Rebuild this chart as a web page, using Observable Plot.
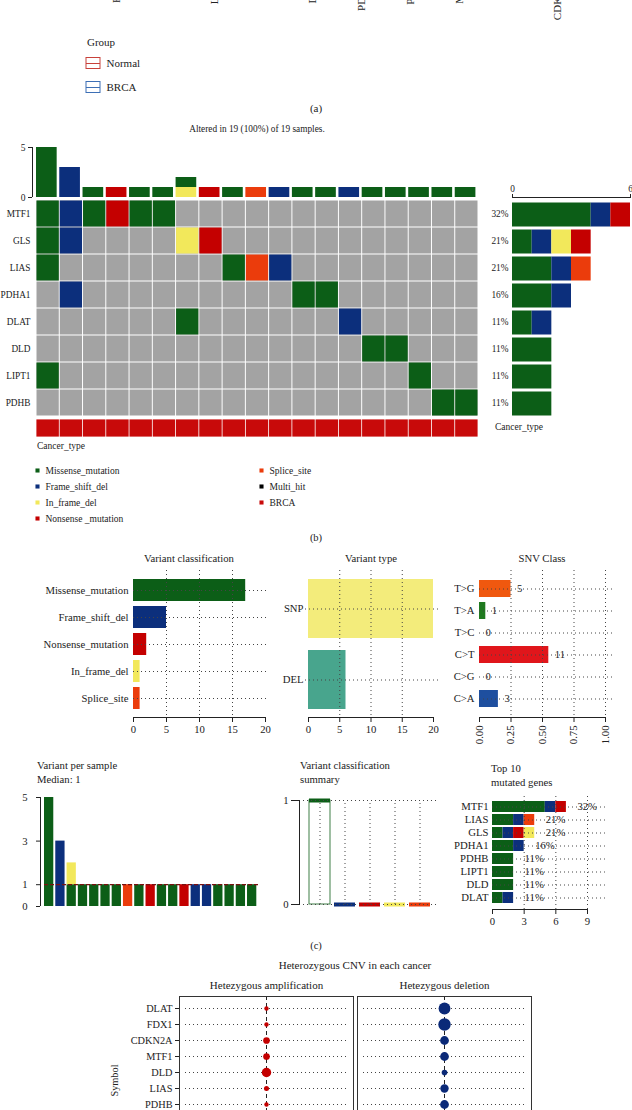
<!DOCTYPE html>
<html><head><meta charset="utf-8">
<script src="https://cdn.jsdelivr.net/npm/d3@7"></script>
<script src="https://cdn.jsdelivr.net/npm/@observablehq/plot@0.6"></script>
<style>
html,body{margin:0;padding:0;background:#fff;}
#fig{position:relative;width:632px;height:1110px;overflow:hidden;font-family:"Liberation Serif",serif;color:#222;background:#fff;}
.t{position:absolute;white-space:nowrap;line-height:1;}
</style></head><body><div id="fig"></div><script>
// ================= DATA =================
// (a) boxplot axis genes (cropped at top) and group legend
const boxGenes = ["FDX1","LIAS","LIPT1","DLD","DLAT","PDHA1","PDHB","MTF1","GLS","CDKN2A"];
const groups = ["Normal","BRCA"];
const groupColors = ["#c8413a","#3d6fb5"];

// (b) oncoplot
const mutTypes = ["Missense_mutation","Frame_shift_del","In_frame_del","Nonsense_mutation","Splice_site","Multi_hit","BRCA"];
const mutLabels = ["Missense_mutation","Frame_shift_del","In_frame_del","Nonsense _mutation","Splice_site","Multi_hit","BRCA"];
const mutColors = ["#0c5e17","#0c2f7c","#f2e85b","#c40000","#eb3c0c","#000000","#c80a0a"];
const oncoGenes = ["MTF1","GLS","LIAS","PDHA1","DLAT","DLD","LIPT1","PDHB"];
const oncoPct = ["32%","21%","21%","16%","11%","11%","11%","11%"];
const sampleCount = 19;
const oncoHits = [ // [gene, sample, class]
  ["MTF1",1,"Missense_mutation"],["GLS",1,"Missense_mutation"],["LIAS",1,"Missense_mutation"],["LIPT1",1,"Missense_mutation"],
  ["MTF1",2,"Frame_shift_del"],["GLS",2,"Frame_shift_del"],["PDHA1",2,"Frame_shift_del"],
  ["MTF1",3,"Missense_mutation"],["MTF1",4,"Nonsense_mutation"],["MTF1",5,"Missense_mutation"],["MTF1",6,"Missense_mutation"],
  ["GLS",7,"In_frame_del"],["DLAT",7,"Missense_mutation"],["GLS",8,"Nonsense_mutation"],
  ["LIAS",9,"Missense_mutation"],["LIAS",10,"Splice_site"],["LIAS",11,"Frame_shift_del"],
  ["PDHA1",12,"Missense_mutation"],["PDHA1",13,"Missense_mutation"],["DLAT",14,"Frame_shift_del"],
  ["DLD",15,"Missense_mutation"],["DLD",16,"Missense_mutation"],["LIPT1",17,"Missense_mutation"],
  ["PDHB",18,"Missense_mutation"],["PDHB",19,"Missense_mutation"]
];
const sampleBurden = [ // [sample, class, count] top bar
  [1,"Missense_mutation",5],[2,"Frame_shift_del",3],[3,"Missense_mutation",1],[4,"Nonsense_mutation",1],
  [5,"Missense_mutation",1],[6,"Missense_mutation",1],[7,"In_frame_del",1],[7,"Missense_mutation",1],
  [8,"Nonsense_mutation",1],[9,"Missense_mutation",1],[10,"Splice_site",1],[11,"Frame_shift_del",1],
  [12,"Missense_mutation",1],[13,"Missense_mutation",1],[14,"Frame_shift_del",1],[15,"Missense_mutation",1],
  [16,"Missense_mutation",1],[17,"Missense_mutation",1],[18,"Missense_mutation",1],[19,"Missense_mutation",1]
];
const geneBurden = [ // [gene, class, count] right bar
  ["MTF1","Missense_mutation",4],["MTF1","Frame_shift_del",1],["MTF1","Nonsense_mutation",1],
  ["GLS","Missense_mutation",1],["GLS","Frame_shift_del",1],["GLS","In_frame_del",1],["GLS","Nonsense_mutation",1],
  ["LIAS","Missense_mutation",2],["LIAS","Frame_shift_del",1],["LIAS","Splice_site",1],
  ["PDHA1","Missense_mutation",2],["PDHA1","Frame_shift_del",1],
  ["DLAT","Missense_mutation",1],["DLAT","Frame_shift_del",1],
  ["DLD","Missense_mutation",2],["LIPT1","Missense_mutation",2],["PDHB","Missense_mutation",2]
];
const cancerType = ["BRCA","BRCA","BRCA","BRCA","BRCA","BRCA","BRCA","BRCA","BRCA","BRCA",
                    "BRCA","BRCA","BRCA","BRCA","BRCA","BRCA","BRCA","BRCA","BRCA"];

// (c) summary panels
const vcClasses = ["Missense_mutation","Frame_shift_del","Nonsense_mutation","In_frame_del","Splice_site"];
const vcCounts = [17,5,2,1,1];
const vtTypes = ["SNP","DEL"];
const vtCounts = [20,6];
const vtColors = ["#f3ec7b","#48a58d"];
const snvClasses = ["T>G","T>A","T>C","C>T","C>G","C>A"];
const snvFrac = [0.25,0.05,0,0.55,0,0.15];
const snvCounts = [5,1,0,11,0,3];
const snvColors = ["#f0580f","#1f7a1f","#999999","#e0161b","#999999","#1e4f9f"];
const perSampleVariants = [ // [sample, class, count]
  [1,"Missense_mutation",5],[2,"Frame_shift_del",3],[3,"Missense_mutation",1],[3,"In_frame_del",1],
  [4,"Missense_mutation",1],[5,"Missense_mutation",1],[6,"Missense_mutation",1],[7,"Missense_mutation",1],
  [8,"Splice_site",1],[9,"Missense_mutation",1],[10,"Nonsense_mutation",1],[11,"Missense_mutation",1],
  [12,"Missense_mutation",1],[13,"Nonsense_mutation",1],[14,"Frame_shift_del",1],[15,"Frame_shift_del",1],
  [16,"Missense_mutation",1],[17,"Missense_mutation",1],[18,"Missense_mutation",1],[19,"Missense_mutation",1]
];
const vcSummaryQ1 = [0,0,0,0,0];
const vcSummaryMedian = [1,0,0,0,0];
const vcSummaryQ3 = [1,0,0,0,0];
const top10Genes = ["MTF1","LIAS","GLS","PDHA1","PDHB","LIPT1","DLD","DLAT"];
const top10Pct = ["32%","21%","21%","16%","11%","11%","11%","11%"];
const top10Burden = [
  ["MTF1","Missense_mutation",5],["MTF1","Frame_shift_del",1],["MTF1","Nonsense_mutation",1],
  ["LIAS","Missense_mutation",2],["LIAS","Frame_shift_del",1],["LIAS","Splice_site",1],
  ["GLS","Missense_mutation",1],["GLS","Frame_shift_del",1],["GLS","Nonsense_mutation",1],["GLS","In_frame_del",1],
  ["PDHA1","Missense_mutation",2],["PDHA1","Frame_shift_del",1],
  ["PDHB","Missense_mutation",2],["LIPT1","Missense_mutation",2],["DLD","Missense_mutation",2],
  ["DLAT","Missense_mutation",1],["DLAT","Frame_shift_del",1]
];

// (d) CNV dot plot
const cnvSymbols = ["DLAT","FDX1","CDKN2A","MTF1","DLD","LIAS","PDHB","LIPT1","PDHA1","GLS"];
const cnvTypes = ["Hetezygous amplification","Hetezygous deletion"];
const cnvColors = ["#c40000","#0b2a78"];
const cnvVisible = ["DLAT","FDX1","CDKN2A","MTF1","DLD","LIAS","PDHB"];
const ampPct = [0.03,0.03,0.07,0.07,0.14,0.04,0.03];
const delPct = [0.22,0.24,0.12,0.12,0.05,0.11,0.12];

// ================= HELPERS =================
const fig = document.getElementById("fig");
const FONT = "Liberation Serif";
const st = (fs) => ({fontFamily: FONT, fontSize: fs + "px", background: "transparent", overflow: "visible", color: "#222"});
const dotted = {stroke: "#444", strokeDasharray: "1,3", strokeWidth: 1};
const intFmt = d3.format("d");
function mount(el, left, top) {
  el.style.position = "absolute"; el.style.left = left + "px"; el.style.top = top + "px";
  fig.appendChild(el);
}
function label(s, x, y, size = 10.5, anchor = "start") {
  const d = document.createElement("div");
  d.className = "t"; d.textContent = s;
  d.style.left = x + "px"; d.style.top = y + "px"; d.style.fontSize = size + "px";
  const tx = anchor === "middle" ? "-50%" : anchor === "end" ? "-100%" : "0";
  d.style.transform = `translate(${tx},-50%)`;
  fig.appendChild(d);
}
function stackRows(rows) {
  const acc = new Map();
  return rows.map(([k, cls, n]) => { const a = acc.get(k) || 0; acc.set(k, a + n); return {k, cls, a, b: a + n}; });
}
const mutColor = {domain: mutTypes, range: mutColors};

// ================= (a) =================
mount(Plot.plot({
  width: 632, height: 60, margin: 0, style: st(11),
  x: {type: "band", domain: boxGenes, range: [86.5, 576.5], padding: 0, axis: null},
  marks: [Plot.text(boxGenes, {x: d => d, frameAnchor: "top", rotate: -90, textAnchor: "end"})]
}), 0, -25);

label("Group", 87, 42, 11);
mount(Plot.plot({
  width: 70, height: 48, margin: 0, style: st(11),
  x: {domain: [0, 70], range: [0, 70], axis: null},
  y: {type: "band", domain: groups, padding: 0, axis: null},
  color: {domain: groups, range: groupColors},
  marks: [
    Plot.ruleX(groups, {x: 9, y: d => d, stroke: d => d, insetTop: 3, insetBottom: 3}),
    Plot.barX(groups, {x1: 2, x2: 16, y: d => d, fill: "white", stroke: d => d, insetTop: 6.5, insetBottom: 6.5}),
    Plot.ruleY(groups, {y: d => d, x1: 2, x2: 16, stroke: d => d}),
    Plot.text(groups, {x: 22, y: d => d, textAnchor: "start"})
  ]
}), 84, 51);
label("(a)", 316, 108, 11, "middle");

// ================= (b) =================
label("Altered in 19 (100%) of 19 samples.", 257, 130, 9.3, "middle");

// top bar
mount(Plot.plot({
  width: 632, height: 60, marginLeft: 32, marginRight: 154, marginTop: 7, marginBottom: 3, style: st(9.5),
  x: {domain: [0, sampleCount], range: [36, 478], axis: null},
  y: {domain: [0, 5]},
  color: mutColor,
  marks: [
    Plot.rect(stackRows(sampleBurden), {x1: d => d.k - 1, x2: d => d.k, y1: "a", y2: "b", fill: "cls", insetRight: 2.6}),
    Plot.ruleX([0], {y1: 0, y2: 5, dx: -4}),
    Plot.axisY({ticks: [0, 5], tickFormat: intFmt, tickSize: 4, tickPadding: 3, label: null})
  ]
}), 0, 140);

// main grid
const gridCells = d3.cross(oncoGenes, d3.range(sampleCount));
mount(Plot.plot({
  width: 632, height: 216, marginLeft: 36, marginRight: 154, marginTop: 0, marginBottom: 0, style: st(9.3),
  x: {domain: [0, sampleCount], axis: null},
  y: {type: "band", domain: oncoGenes, padding: 0},
  color: mutColor,
  marks: [
    Plot.barX(gridCells, {x1: d => d[1], x2: d => d[1] + 1, y: d => d[0], fill: "#a3a3a3", inset: 0.5}),
    Plot.barX(oncoHits, {x1: d => d[1] - 1, x2: d => d[1], y: d => d[0], fill: d => d[2], inset: 0.5}),
    Plot.axisY({tickSize: 0, tickPadding: 6, label: null})
  ]
}), 0, 200);

// cancer type bar
mount(Plot.plot({
  width: 632, height: 18, marginLeft: 36, marginRight: 154, marginTop: 0, marginBottom: 0, style: st(9),
  x: {domain: [0, sampleCount], axis: null},
  color: mutColor,
  marks: [Plot.barX(cancerType, {x1: (d, i) => i, x2: (d, i) => i + 1, fill: d => d, inset: 0.4})]
}), 0, 419);
label("Cancer_type", 37, 447, 9.5);
label("Cancer_type", 495, 428, 9.5);

// right bar
const pctMap = new Map(oncoGenes.map((g, i) => [g, oncoPct[i]]));
mount(Plot.plot({
  width: 632, height: 236, marginLeft: 512, marginRight: 2, marginTop: 17, marginBottom: 0, style: st(9.3),
  x: {domain: [0, 6]},
  y: {type: "band", domain: oncoGenes, range: [20, 236], padding: 0},
  color: mutColor,
  marks: [
    Plot.barX(geneBurden, {y: d => d[0], x: d => d[2], fill: d => d[1], insetTop: 2.5, insetBottom: 0.5}),
    Plot.frame({anchor: "top"}),
    Plot.axisX({anchor: "top", ticks: [0, 6], tickFormat: intFmt, tickSize: 4, tickPadding: 2, label: null}),
    Plot.axisY({tickSize: 0, tickPadding: 4, tickFormat: g => pctMap.get(g), label: null})
  ]
}), 0, 180);

// legend (b)
const legendItems = mutTypes.map((t, i) => ({t, lab: mutLabels[i], col: i < 4 ? 0 : 1, row: i < 4 ? i : i - 4}));
mount(Plot.plot({
  width: 400, height: 70, margin: 0, style: st(9.5),
  x: {domain: [0, 1], range: [37, 261], axis: null},
  y: {domain: [0, 3], range: [10, 58], axis: null},
  color: mutColor,
  marks: [
    Plot.dot(legendItems, {x: "col", y: "row", symbol: "square", r: 2.3, fill: "t"}),
    Plot.text(legendItems, {x: "col", y: "row", text: "lab", dx: 8, textAnchor: "start"})
  ]
}), 0, 460);
label("(b)", 316, 538, 10.5, "middle");

// ================= (c) =================
label("Variant classification", 189, 558, 10.7, "middle");
label("Variant type", 371, 558, 10.7, "middle");
label("SNV Class", 542, 558, 10.7, "middle");

const vcData = vcClasses.map((c, i) => ({c, n: vcCounts[i]}));
mount(Plot.plot({
  width: 632, height: 182, marginLeft: 133, marginRight: 367, marginTop: 10, marginBottom: 25, style: st(10.7),
  x: {domain: [0, 20]},
  y: {type: "band", domain: vcClasses, range: [12.5, 155.5], padding: 0.2},
  color: mutColor,
  marks: [
    Plot.barX(vcData, {y: "c", x: "n", fill: "c"}),
    Plot.ruleX([5, 10, 15], dotted),
    Plot.ruleY(vcClasses, {y: d => d, x1: 0, x2: 20.3, ...dotted}),
    Plot.frame({anchor: "bottom"}),
    Plot.axisX({ticks: [0, 5, 10, 15, 20], tickSize: 5, tickPadding: 3, label: null}),
    Plot.axisY({tickSize: 0, tickPadding: 5, label: null})
  ]
}), 0, 560);

const vtData = vtTypes.map((c, i) => ({c, n: vtCounts[i]}));
mount(Plot.plot({
  width: 632, height: 182, marginLeft: 308, marginRight: 199, marginTop: 10, marginBottom: 25, style: st(10.7),
  x: {domain: [0, 20]},
  y: {type: "band", domain: vtTypes, range: [15, 153], paddingInner: 0.167, paddingOuter: 0.05},
  color: {domain: vtTypes, range: vtColors},
  marks: [
    Plot.barX(vtData, {y: "c", x: "n", fill: "c"}),
    Plot.ruleX([5, 10, 15], dotted),
    Plot.ruleY(vtTypes, {y: d => d, x1: 0, x2: 20, insetLeft: -3, insetRight: -7, ...dotted}),
    Plot.frame({anchor: "bottom"}),
    Plot.axisX({ticks: [0, 5, 10, 15, 20], tickSize: 5, tickPadding: 3, label: null}),
    Plot.axisY({tickSize: 0, tickPadding: 5, label: null})
  ]
}), 0, 560);

const snvData = snvClasses.map((c, i) => ({c, f: snvFrac[i], n: snvCounts[i]}));
mount(Plot.plot({
  width: 632, height: 182, marginLeft: 479, marginRight: 27, marginTop: 10, marginBottom: 25, style: st(10.7),
  x: {domain: [0, 1]},
  y: {type: "band", domain: snvClasses, range: [13.2, 154.8], padding: 0.21},
  color: {domain: snvClasses, range: snvColors},
  marks: [
    Plot.barX(snvData, {y: "c", x: "f", fill: "c"}),
    Plot.ruleX([0.25, 0.5, 0.75, 1], dotted),
    Plot.ruleY(snvClasses, {y: d => d, x1: 0, x2: 1.07, ...dotted}),
    Plot.text(snvData, {y: "c", x: "f", text: "n", dx: 6, textAnchor: "start"}),
    Plot.frame({anchor: "bottom"}),
    Plot.axisX({ticks: [0, 0.25, 0.5, 0.75, 1], tickFormat: d3.format(".2f"), tickRotate: -90, tickSize: 5, tickPadding: 3, label: null}),
    Plot.axisY({tickSize: 0, tickPadding: 5, label: null})
  ]
}), 0, 560);

// variant per sample
const sampleTotals = d3.rollup(perSampleVariants, v => d3.sum(v, d => d[2]), d => d[0]);
const medianVariants = d3.median(Array.from(sampleTotals.values()));
label("Variant per sample", 37, 765, 10.7);
label("Median: " + medianVariants, 37, 779, 10.7);
mount(Plot.plot({
  width: 632, height: 130, marginLeft: 40, marginRight: 370, marginTop: 7, marginBottom: 14, style: st(10.7),
  x: {domain: [0, sampleCount], range: [44, 258.3], axis: null},
  y: {domain: [0, 5], range: [116, 7]},
  color: mutColor,
  marks: [
    Plot.rect(stackRows(perSampleVariants), {x1: d => d.k - 1, x2: d => d.k, y1: "a", y2: "b", fill: "cls", insetRight: 2}),
    Plot.ruleY([medianVariants], {x1: 0, x2: sampleCount, stroke: "#7a1010", strokeDasharray: "4,2", strokeWidth: 1.2}),
    Plot.ruleX([0], {y1: 0, y2: 5, dx: -4}),
    Plot.axisY({ticks: [0, 1, 3, 5], tickFormat: intFmt, tickSize: 4, tickPadding: 9, label: null})
  ]
}), 0, 790);

// variant classification summary
label("Variant classification", 300, 765, 10.7);
label("summary", 300, 779, 10.7);
const vcSummary = vcClasses.map((c, i) => ({c, q1: vcSummaryQ1[i], m: vcSummaryMedian[i], q3: vcSummaryQ3[i]}));
mount(Plot.plot({
  width: 632, height: 130, marginLeft: 299, marginRight: 194, marginTop: 10, marginBottom: 16, style: st(10.7),
  x: {type: "band", domain: vcClasses, range: [307, 431], paddingInner: 0.18, paddingOuter: 0, axis: null},
  y: {domain: [0, 1]},
  color: mutColor,
  marks: [
    Plot.barY(vcSummary, {x: "c", y1: "q1", y2: "q3", fill: "white", stroke: "c", strokeOpacity: 0.8}),
    Plot.tickY(vcSummary, {x: "c", y: "m", stroke: "c", strokeWidth: 4}),
    Plot.ruleY([0, 1], dotted),
    Plot.ruleX(vcClasses, {x: d => d, y1: 0, y2: 1, ...dotted}),
    Plot.frame({anchor: "left"}),
    Plot.axisY({ticks: [0, 1], tickFormat: intFmt, tickSize: 8, tickPadding: 3, label: null})
  ]
}), 0, 790);

// top 10 mutated genes
label("Top 10", 491, 768, 10.7);
label("mutated genes", 491, 782, 10.7);
const top10Totals = d3.rollup(top10Burden, v => d3.sum(v, d => d[2]), d => d[0]);
const top10Labels = top10Genes.map((g, i) => ({g, n: top10Totals.get(g), p: top10Pct[i]}));
mount(Plot.plot({
  width: 632, height: 140, marginLeft: 492, marginRight: 45, marginTop: 6, marginBottom: 21, style: st(10.7),
  x: {domain: [0, 9]},
  y: {type: "band", domain: top10Genes, range: [8.8, 115.7], padding: 0.18},
  color: mutColor,
  marks: [
    Plot.barX(top10Burden, {y: d => d[0], x: d => d[2], fill: d => d[1]}),
    Plot.ruleX([3, 6, 9], dotted),
    Plot.ruleY(top10Genes, {y: d => d, x1: 0, x2: 10.7, ...dotted}),
    Plot.text(top10Labels, {y: "g", x: "n", text: "p", dx: 11, textAnchor: "start"}),
    Plot.frame({anchor: "bottom"}),
    Plot.axisX({ticks: [0, 3, 6, 9], tickSize: 5, tickPadding: 3, label: null}),
    Plot.axisY({tickSize: 0, tickPadding: 4, label: null})
  ]
}), 0, 790);
label("(c)", 316, 946, 10.5, "middle");

// ================= (d) =================
label("Heterozygous CNV in each cancer", 355, 965, 11, "middle");
const cnvData = [
  ...cnvVisible.map((s, i) => ({s, type: cnvTypes[0], cancer: "BRCA", p: ampPct[i]})),
  ...cnvVisible.map((s, i) => ({s, type: cnvTypes[1], cancer: "BRCA", p: delPct[i]}))
];
mount(Plot.plot({
  width: 632, height: 204, marginLeft: 178, marginRight: 100, marginTop: 26, marginBottom: 10, style: st(10.3),
  fx: {domain: cnvTypes, padding: 0.022},
  x: {type: "band", domain: ["BRCA"], padding: 0, axis: null},
  y: {type: "band", domain: cnvSymbols, padding: 0},
  r: {domain: [0, 0.4], range: [0, 8]},
  color: {domain: cnvTypes, range: cnvColors},
  marks: [
    Plot.ruleY(cnvSymbols, {y: d => d, insetLeft: 6, insetRight: 6, ...dotted}),
    Plot.ruleX(["BRCA"], {x: d => d, stroke: "#222", strokeDasharray: "4,3"}),
    Plot.dot(cnvData, {fx: "type", x: "cancer", y: "s", r: "p", fill: "type"}),
    Plot.frame({stroke: "#333"}),
    Plot.axisFx({anchor: "top", label: null, tickSize: 0, tickPadding: 8, fontSize: 11}),
    Plot.axisY({tickSize: 4, tickPadding: 3, label: "Symbol", labelAnchor: "center", labelOffset: 69, fontSize: 10.3})
  ]
}), 0, 970);
</script></body></html>
